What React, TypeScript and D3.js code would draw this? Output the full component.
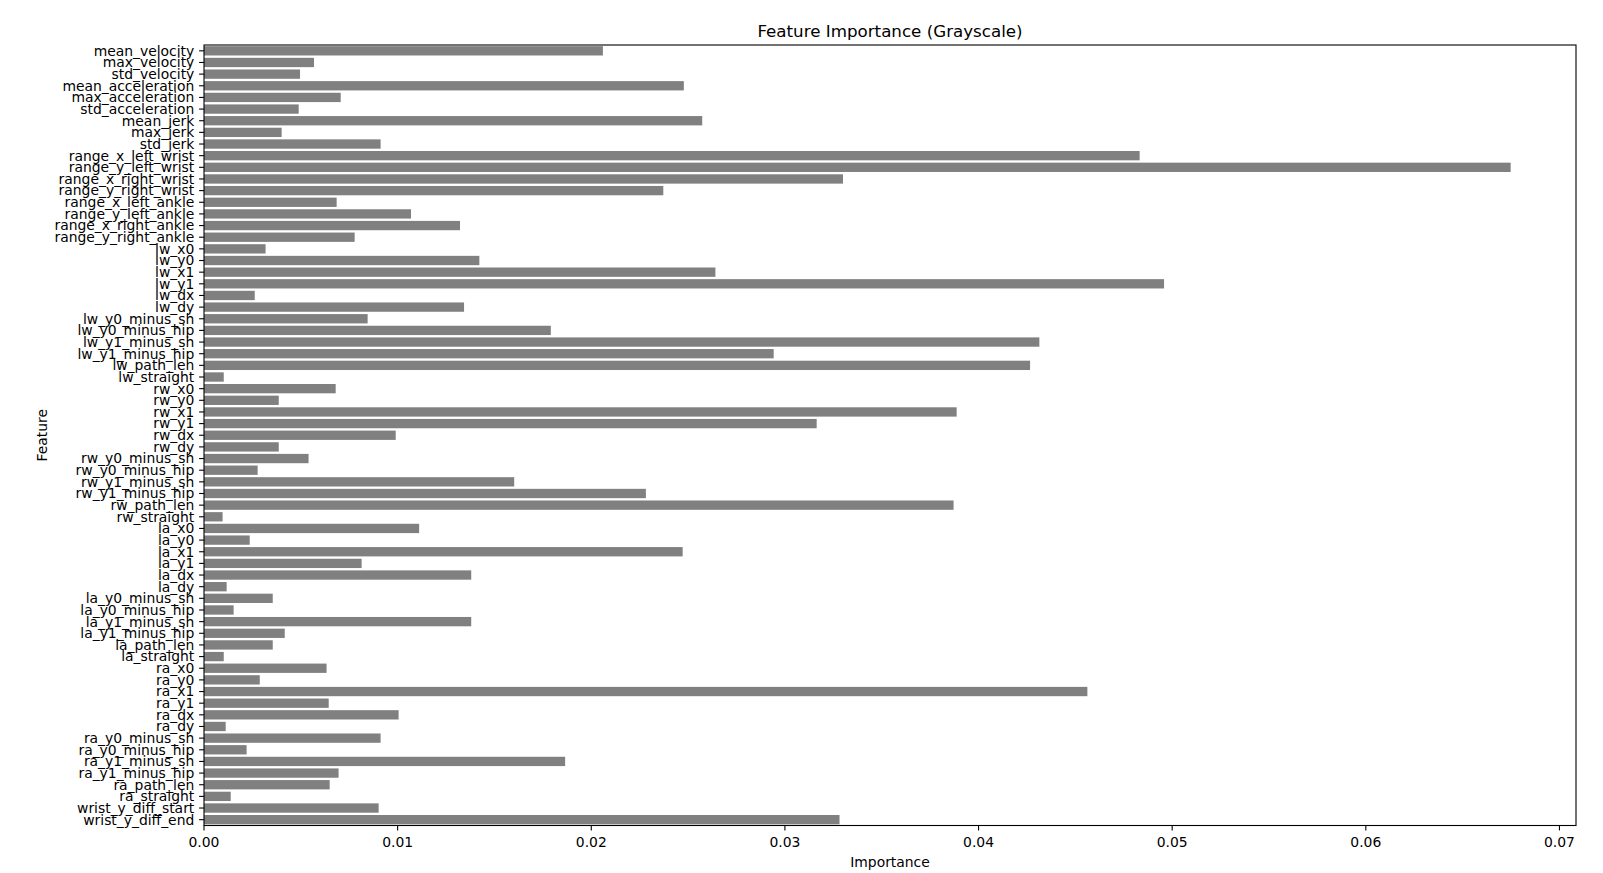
import React from "react";
import * as d3 from "d3";

const features: string[] = [
  "mean_velocity", "max_velocity", "std_velocity", "mean_acceleration", "max_acceleration",
  "std_acceleration", "mean_jerk", "max_jerk", "std_jerk", "range_x_left_wrist",
  "range_y_left_wrist", "range_x_right_wrist", "range_y_right_wrist", "range_x_left_ankle",
  "range_y_left_ankle", "range_x_right_ankle", "range_y_right_ankle", "lw_x0", "lw_y0",
  "lw_x1", "lw_y1", "lw_dx", "lw_dy", "lw_y0_minus_sh", "lw_y0_minus_hip", "lw_y1_minus_sh",
  "lw_y1_minus_hip", "lw_path_len", "lw_straight", "rw_x0", "rw_y0", "rw_x1", "rw_y1",
  "rw_dx", "rw_dy", "rw_y0_minus_sh", "rw_y0_minus_hip", "rw_y1_minus_sh", "rw_y1_minus_hip",
  "rw_path_len", "rw_straight", "la_x0", "la_y0", "la_x1", "la_y1", "la_dx", "la_dy",
  "la_y0_minus_sh", "la_y0_minus_hip", "la_y1_minus_sh", "la_y1_minus_hip", "la_path_len",
  "la_straight", "ra_x0", "ra_y0", "ra_x1", "ra_y1", "ra_dx", "ra_dy", "ra_y0_minus_sh",
  "ra_y0_minus_hip", "ra_y1_minus_sh", "ra_y1_minus_hip", "ra_path_len", "ra_straight",
  "wrist_y_diff_start", "wrist_y_diff_end",
];

const importance: number[] = [
  0.0206, 0.00568, 0.00496, 0.02478, 0.00706,
  0.00489, 0.02573, 0.00401, 0.00912, 0.04832,
  0.06748, 0.0330, 0.02372, 0.00685,
  0.01069, 0.01322, 0.00778, 0.00318, 0.01422,
  0.02641, 0.04958, 0.00262, 0.01343, 0.00845, 0.01791, 0.04314,
  0.02942, 0.04266, 0.00102, 0.0068, 0.00386, 0.03887, 0.03164,
  0.0099, 0.00386, 0.0054, 0.00277, 0.01602, 0.02282,
  0.03871, 0.00096, 0.01111, 0.00236, 0.02472, 0.00814, 0.0138, 0.00117,
  0.00355, 0.00153, 0.0138, 0.00417, 0.00355,
  0.00102, 0.00633, 0.00288, 0.04562, 0.00644, 0.01005, 0.00112, 0.00912,
  0.0022, 0.01865, 0.00695, 0.00649, 0.00138,
  0.00902, 0.03282,
];

const xTicks: number[] = [0, 0.01, 0.02, 0.03, 0.04, 0.05, 0.06, 0.07];

const W = 1603;
const H = 873;
const left = 204;
const right = 1576;
const top = 45;
const bottom = 825.5;
const FONT = "'DejaVu Sans', sans-serif";

export default function App() {
  const xMax = (d3.max(importance) as number) * 1.05;
  const x = d3.scaleLinear().domain([0, xMax]).range([left, right]);
  const y = d3.scaleBand<string>().domain(features).range([top, bottom]).paddingInner(0.2).paddingOuter(0.1);
  const bw = y.bandwidth();
  const fmt = d3.format(".2f");

  return (
    <svg width={W} height={H} style={{ position: "absolute", left: 0, top: 0, background: "#fff" }}>
      <rect x={0} y={0} width={W} height={H} fill="#fff" />
      {features.map((f, i) => (
        <rect key={f} x={x(0)} y={y(f)!} width={x(importance[i]) - x(0)} height={bw} fill="#808080" />
      ))}
      {features.map((f) => {
        const cy = (y(f) as number) + bw / 2;
        return (
          <g key={"yt" + f}>
            <line x1={left - 4.9} x2={left} y1={cy} y2={cy} stroke="#000" strokeWidth={1.1} />
            <text x={left - 9.7} y={cy} dy="0.35em" textAnchor="end" fontFamily={FONT} fontSize={13.9} fill="#000">
              {f}
            </text>
          </g>
        );
      })}
      {xTicks.map((t) => (
        <g key={"xt" + t}>
          <line x1={x(t)} x2={x(t)} y1={bottom} y2={bottom + 4.9} stroke="#000" strokeWidth={1.1} />
          <text x={x(t)} y={bottom + 21} textAnchor="middle" fontFamily={FONT} fontSize={13.9} fill="#000">
            {fmt(t)}
          </text>
        </g>
      ))}
      <rect x={left} y={top} width={right - left} height={bottom - top} fill="none" stroke="#000" strokeWidth={1.1} />
      <text x={(left + right) / 2} y={37} textAnchor="middle" fontFamily={FONT} fontSize={16.7} fill="#000">
        Feature Importance (Grayscale)
      </text>
      <text x={(left + right) / 2} y={867} textAnchor="middle" fontFamily={FONT} fontSize={13.9} fill="#000">
        Importance
      </text>
      <text
        transform={`translate(47, ${(top + bottom) / 2}) rotate(-90)`}
        textAnchor="middle"
        fontFamily={FONT}
        fontSize={13.9}
        fill="#000"
      >
        Feature
      </text>
    </svg>
  );
}
